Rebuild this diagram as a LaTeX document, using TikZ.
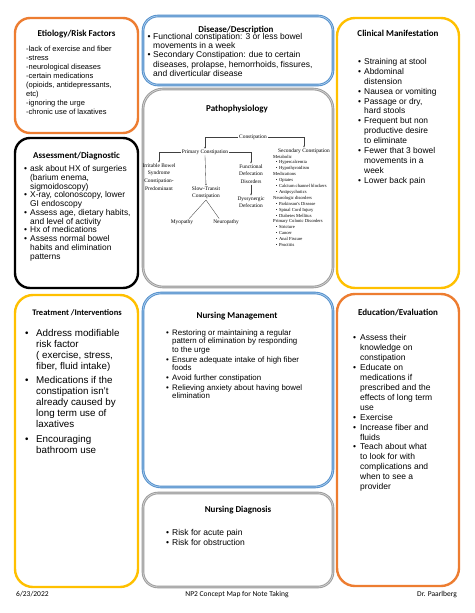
\documentclass[tikz,border=0pt]{standalone}
\usepackage{fontspec}
\setmainfont{Liberation Sans}
\newfontfamily\ttlfont{Carlito}
\newfontfamily\tmsfont{Liberation Serif}
\usetikzlibrary{arrows.meta,calc}
\definecolor{cOrange}{HTML}{ED7D31}
\definecolor{cBlue}{HTML}{4F8DCB}
\definecolor{cBlueLt}{HTML}{A9CBEA}
\definecolor{cGray}{HTML}{9A9A9A}
\definecolor{cGrayLt}{HTML}{D0D0D0}
\definecolor{cYellow}{HTML}{FFC000}
\definecolor{cLine}{HTML}{404040}
\newcommand\bu[1]{\llap{\makebox[#1][l]{•}}}
\newcommand\sbu{\hspace*{2.6pt}\makebox[3.2pt][l]{•}}
\newcommand\fl{\rule{0pt}{1em}}
\tikzset{
  panel/.style={line width=2.4pt, rounded corners=15pt},
  dpanel/.style={draw=#1, line width=0.9pt, double distance=0.8pt, rounded corners=15pt},
  ttl/.style={font=\ttlfont\bfseries\fontsize{9}{11}\selectfont, anchor=base, inner sep=0pt},
  body/.style={anchor=north west, align=left, inner sep=0pt},
  tree/.style={font=\tmsfont\fontsize{5.4}{7.6}\selectfont, align=center, inner sep=0.8pt},
  treearr/.style={draw=cLine, line width=0.35pt, -{Stealth[length=1.8pt,width=1.6pt]}},
  treeline/.style={draw=cLine, line width=0.35pt},
  foot/.style={font=\ttlfont\fontsize{7.5}{9}\selectfont, inner sep=0pt}
}
\begin{document}
\begin{tikzpicture}[x=1pt,y=-1pt]
\useasboundingbox (0,0) rectangle (474,613);
\fill[white] (0,0) rectangle (474,613);

% panels
\draw[panel, cOrange] (15,18) rectangle (138,133);
\draw[panel, black] (15,138) rectangle (138,288);
\draw[dpanel=cBlue, double=cBlueLt] (143,16) rectangle (333,85);
\draw[dpanel=cGray, double=cGrayLt, rounded corners=20pt] (143,89) rectangle (333,287);
\draw[panel, cYellow, rounded corners=18pt] (337,18) rectangle (459,288);
\draw[panel, cYellow, rounded corners=18pt] (15,295) rectangle (138,587);
\draw[dpanel=cBlue, double=cBlueLt, rounded corners=18pt] (143,293) rectangle (333,487);
\draw[dpanel=cGray, double=cGrayLt] (143,493) rectangle (333,587);
\draw[panel, cOrange, rounded corners=18pt] (337,294) rectangle (459,586);

% Etiology
\node[ttl] (etiottl) at (76.5,36) {Etiology/Risk Factors};
\node[body, font=\fontsize{7.5}{9}\selectfont] (etiotxt) at (26,43.3) {\fl-lack of exercise and fiber\\-stress\\-neurological diseases\\-certain medications\\(opioids, antidepressants,\\etc)\\-ignoring the urge\\-chronic use of laxatives};

% Assessment
\node[ttl] (assttl) at (76.5,158) {Assessment/Diagnostic};
\node[body, font=\fontsize{8.4}{8.75}\selectfont] (asstxt) at (30,162.9) {\fl\bu{6pt}ask about HX of surgeries\\(barium enema,\\sigmoidoscopy)\\\bu{6pt}X-ray, colonoscopy, lower\\GI endoscopy\\\bu{6pt}Assess age, dietary habits,\\and level of activity\\\bu{6pt}Hx of medications\\\bu{6pt}Assess normal bowel\\habits and elimination\\patterns};

% Disease
\node[ttl] (disttl) at (236,32) {Disease/Description};
\node[body, font=\fontsize{8.5}{9.1}\selectfont] (distxt) at (153,31) {\fl\bu{5.5pt}Functional constipation: 3 or less bowel\\movements in a week\\\bu{5.5pt}Secondary Constipation: due to certain\\diseases, prolapse, hemorrhoids, fissures,\\and diverticular disease};

% Clinical
\node[ttl] (clinttl) at (398,36) {Clinical Manifestation};
\node[body, font=\fontsize{8.4}{9.9}\selectfont] (clintxt) at (364,55.8) {\fl\bu{6pt}Straining at stool\\\bu{6pt}Abdominal\\distension\\\bu{6pt}Nausea or vomiting\\\bu{6pt}Passage or dry,\\hard stools\\\bu{6pt}Frequent but non\\productive desire\\to eliminate\\\bu{6pt}Fewer that 3 bowel\\movements in a\\week\\\bu{6pt}Lower back pain};

% Pathophysiology
\node[ttl] (patttl) at (237,111) {Pathophysiology};
\node[tree] (constip) at (253,137) {Constipation};
\node[tree] (primary) at (205,152) {Primary Constipation};
\node[tree] (secondary) at (304,151) {Secondary Constipation};
\node[tree, anchor=north] (ibs) at (159,162.5) {Irritable Bowel\\Syndrome\\Constipation-\\Predominant};
\node[tree, anchor=north] (func) at (251,163.5) {Functional\\Defecation\\Disorders};
\node[tree, anchor=north] (slow) at (206,185.5) {Slow-Transit\\Constipation};
\node[tree, anchor=north] (dys) at (251,195.5) {Dyssynergic\\Defecation};
\node[tree] (myo) at (182,222) {Myopathy};
\node[tree] (neuro) at (226,222) {Neuropathy};
\node[body, font=\tmsfont\fontsize{4.6}{5.9}\selectfont] (seclist) at (273,153.2) {\fl Metabolic\\\sbu Hypercalcemia\\\sbu Hypothyroidism\\Medications\\\sbu Opiates\\\sbu Calcium channel blockers\\\sbu Antipsychotics\\Neurologic disorders\\\sbu Parkinson's Disease\\\sbu Spinal Cord Injury\\\sbu Diabetes Mellitus\\Primary Colonic Disorders\\\sbu Stricture\\\sbu Cancer\\\sbu Anal Fissure\\\sbu Proctitis};
\draw[treearr] (constip.west) -| (primary.north);
\draw[treearr] (constip.east) -| (secondary.north);
\draw[treearr] (primary.west) -| (ibs.north);
\draw[treearr] (primary.east) -| (func.north);
\draw[treearr] (primary.south) -- (slow.north);
\draw[treearr] (func.south) -- (dys.north);
\draw[treeline] (slow.south) -- ($(myo.north)!0.6!(myo.north east)$);
\draw[treeline] (slow.south) -- ($(neuro.north)!0.5!(neuro.north west)$);

% Treatment
\node[ttl, font=\ttlfont\bfseries\fontsize{8.5}{10}\selectfont] (trtttl) at (77,315) {Treatment /Interventions};
\node[body, font=\fontsize{9.8}{10.9}\selectfont] (trttxt) at (36,326.7) {\fl\bu{11pt}Address modifiable\\risk factor\\( exercise, stress,\\fiber, fluid intake)\\[3.6pt]\bu{11pt}Medications if the\\constipation isn't\\already caused by\\long term use of\\laxatives\\[4.5pt]\bu{11pt}Encouraging\\bathroom use};

% Nursing Management
\node[ttl] (nmttl) at (237,318) {Nursing Management};
\node[body, font=\fontsize{7.9}{8.3}\selectfont] (nmtxt) at (172,327.5) {\fl\bu{6pt}Restoring or maintaining a regular\\pattern of elimination by responding\\to the urge\\[1.7pt]\bu{6pt}Ensure adequate intake of high fiber\\foods\\[1.7pt]\bu{6pt}Avoid further constipation\\[1.7pt]\bu{6pt}Relieving anxiety about having bowel\\elimination};

% Nursing Diagnosis
\node[ttl] (ndttl) at (238,512) {Nursing Diagnosis};
\node[body, font=\fontsize{8.5}{10}\selectfont] (ndtxt) at (172,527) {\fl\bu{6pt}Risk for acute pain\\\bu{6pt}Risk for obstruction};

% Education
\node[ttl] (edttl) at (398,315) {Education/Evaluation};
\node[body, font=\fontsize{8.5}{9.95}\selectfont] (edtxt) at (360,331.8) {\fl\bu{7pt}Assess their\\knowledge on\\constipation\\\bu{7pt}Educate on\\medications if\\prescribed and the\\effects of long term\\use\\\bu{7pt}Exercise\\\bu{7pt}Increase fiber and\\fluids\\\bu{7pt}Teach about what\\to look for with\\complications and\\when to see a\\provider};

% footer
\node[foot, anchor=base west] (date) at (16,596) {6/23/2022};
\node[foot, anchor=base] (title) at (237,596) {NP2 Concept Map for Note Taking};
\node[foot, anchor=base east] (author) at (457,596) {Dr. Paarlberg};
\end{tikzpicture}
\end{document}
